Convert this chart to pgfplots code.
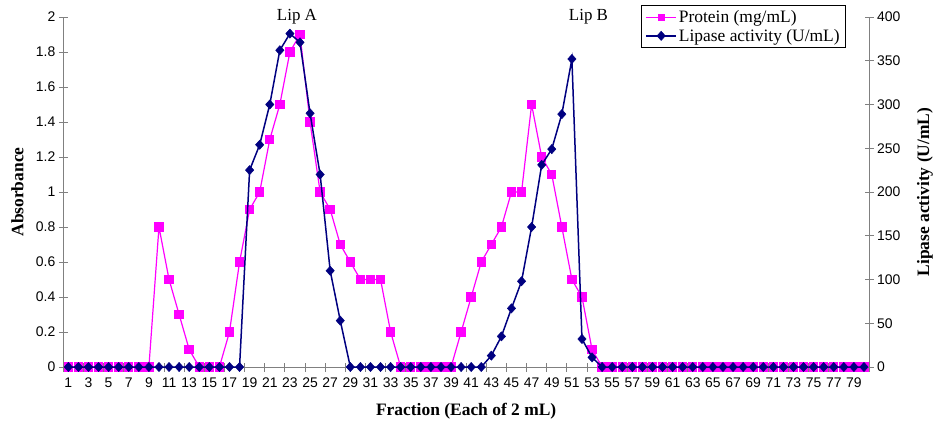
\documentclass[border=0pt]{standalone}
\usepackage{pgfplots}
\pgfplotsset{compat=1.18}
\usepackage{fontspec}
\setmainfont{Liberation Serif}
\newfontfamily\arial{Liberation Sans}
\definecolor{prot}{HTML}{FF00FF}
\definecolor{lip}{HTML}{000080}
\definecolor{axgray}{HTML}{808080}

\pgfplotstableread{
x p
1 0
2 0
3 0
4 0
5 0
6 0
7 0
8 0
9 0
10 0.8
11 0.5
12 0.3
13 0.1
14 0
15 0
16 0
17 0.2
18 0.6
19 0.9
20 1.0
21 1.3
22 1.5
23 1.8
24 1.9
25 1.4
26 1.0
27 0.9
28 0.7
29 0.6
30 0.5
31 0.5
32 0.5
33 0.2
34 0
35 0
36 0
37 0
38 0
39 0
40 0.2
41 0.4
42 0.6
43 0.7
44 0.8
45 1.0
46 1.0
47 1.5
48 1.2
49 1.1
50 0.8
51 0.5
52 0.4
53 0.1
54 0
55 0
56 0
57 0
58 0
59 0
60 0
61 0
62 0
63 0
64 0
65 0
66 0
67 0
68 0
69 0
70 0
71 0
72 0
73 0
74 0
75 0
76 0
77 0
78 0
79 0
80 0
}\protein

\pgfplotstableread{
x l
1 0
2 0
3 0
4 0
5 0
6 0
7 0
8 0
9 0
10 0
11 0
12 0
13 0
14 0
15 0
16 0
17 0
18 0
19 225
20 254
21 300
22 362
23 381
24 371
25 290
26 220
27 110
28 53
29 0
30 0
31 0
32 0
33 0
34 0
35 0
36 0
37 0
38 0
39 0
40 0
41 0
42 0
43 13
44 35
45 67
46 98
47 160
48 231
49 249
50 289
51 352
52 32
53 11
54 0
55 0
56 0
57 0
58 0
59 0
60 0
61 0
62 0
63 0
64 0
65 0
66 0
67 0
68 0
69 0
70 0
71 0
72 0
73 0
74 0
75 0
76 0
77 0
78 0
79 0
80 0
}\lipase

\pgfplotsset{
  common/.style={
    scale only axis, width=805.7bp, height=350bp,
    xmin=0.5, xmax=80.5,
    tick label style={font=\arial\fontsize{14}{14}\selectfont},
    /pgf/number format/assume math mode=true,
    label style={font=\bfseries\fontsize{17.5}{18}\selectfont},
    axis line style={axgray, line width=0.8bp},
    tick style={axgray, line width=0.8bp},
    tick align=center,
    major tick length=9bp,
    clip=false,
  }
}

\begin{document}
\begin{tikzpicture}
\begin{axis}[common,
  axis x line*=bottom, axis y line*=left,
  ymin=0, ymax=2,
  ytick={0,0.2,0.4,0.6,0.8,1,1.2,1.4,1.6,1.8,2},
  yticklabels={0,0.2,0.4,0.6,0.8,1,1.2,1.4,1.6,1.8,2},
  xtick={0.5,2.5,...,80.5},
  xticklabels={1,3,5,7,9,11,13,15,17,19,21,23,25,27,29,31,33,35,37,39,41,43,45,47,49,51,53,55,57,59,61,63,65,67,69,71,73,75,77,79,{}},
  xticklabel style={xshift=5.04bp, yshift=-3bp},
  ylabel={Absorbance},
  ylabel style={at={(axis description cs:-0.0571,0.5)}, anchor=center},
  xlabel={Fraction (Each of 2 mL)},
  xlabel style={at={(axis description cs:0.5,-0.1257)}, anchor=center},
]
\addplot[prot, line width=1.2bp, mark=square*, mark size=4.1bp, mark options={fill=prot, draw=prot}] table[x=x, y=p] {\protein};
\node[font=\fontsize{17}{17}\selectfont] at (axis cs:23.7,2) {Lip A};
\node[font=\fontsize{17}{17}\selectfont] at (axis cs:52.65,2) {Lip B};
\coordinate (SW) at (rel axis cs:0,0);
\coordinate (NE) at (rel axis cs:1,1);
\end{axis}
\begin{axis}[common,
  axis y line*=right, axis x line=none,
  ymin=0, ymax=400,
  ytick={0,50,100,150,200,250,300,350,400},
  ylabel={Lipase activity (U/mL)},
  ylabel style={at={(axis description cs:1.0695,0.5)}, anchor=center},
  legend style={at={(rel axis cs:0.9715,1.034)}, anchor=north east,
    draw=black, line width=0.8bp, font=\fontsize{17.5}{19}\selectfont,
    inner xsep=4bp, inner ysep=3bp, row sep=1bp},
  legend cell align=left,
  legend image code/.code={\draw[mark repeat=2, mark phase=2] plot coordinates {(0bp,0bp) (15bp,0bp) (30bp,0bp)};},
]
\addlegendimage{prot, line width=1.2bp, mark=square*, mark size=3bp, mark options={fill=prot, draw=prot}}
\addlegendentry{Protein (mg/mL)}
\addplot[lip, line width=1.5bp, mark=diamond*, mark size=4.6bp, mark options={fill=lip, draw=lip, xscale=1.2, line width=0.5bp}] table[x=x, y=l] {\lipase};
\addlegendentry{Lipase activity (U/mL)}
\end{axis}
\pgfresetboundingbox
\path ([shift={(-63.3bp,-56bp)}]SW) rectangle ([shift={(68bp,17bp)}]NE);
\end{tikzpicture}
\end{document}
